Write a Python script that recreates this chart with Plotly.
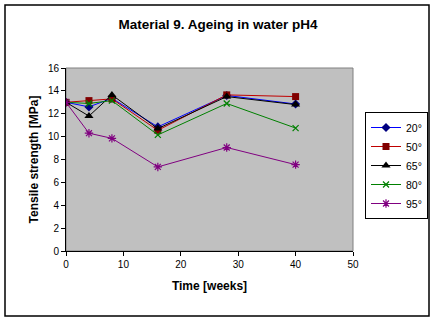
import plotly.graph_objects as go

weeks = [0, 4, 8, 16, 28, 40]
series_names = ["20°", "50°", "65°", "80°", "95°"]
s20 = [13.0, 12.6, 13.35, 10.85, 13.6, 12.85]
s50 = [13.0, 13.15, 13.3, 10.55, 13.65, 13.5]
s65 = [13.0, 11.8, 13.65, 10.7, 13.5, 12.8]
s80 = [13.0, 12.9, 13.15, 10.15, 12.9, 10.75]
s95 = [13.0, 10.3, 9.85, 7.35, 9.05, 7.55]
x_ticks = [0, 10, 20, 30, 40, 50]
y_ticks = [0, 2, 4, 6, 8, 10, 12, 14, 16]

styles = [
    dict(line="#0000FF", marker="#000080", symbol="diamond", size=7),
    dict(line="#C00000", marker="#800000", symbol="square", size=7),
    dict(line="#000000", marker="#000000", symbol="triangle-up", size=8),
    dict(line="#008000", marker="#008000", symbol="x-thin", size=6),
    dict(line="#800080", marker="#800080", symbol="asterisk", size=7),
]

fig = go.Figure()
for name, vals, st in zip(series_names, [s20, s50, s65, s80, s95], styles):
    thin = st["symbol"] in ("x-thin", "asterisk")
    fig.add_trace(go.Scatter(
        x=weeks, y=vals, name=name, mode="lines+markers",
        line=dict(color=st["line"], width=1),
        marker=dict(symbol=st["symbol"], size=st["size"], color=st["marker"],
                    line=dict(color=st["marker"], width=1.2 if thin else 0)),
    ))

W, H = 436, 325
L, R, T, B = 66, 0, 68, 74
PLOT_RIGHT = 353
paper_w = W - L - R
ph = H - T - B

def px(xp):
    return (xp - L) / paper_w

def py(yp):
    return (H - B - yp) / ph

fig.add_shape(type="rect", xref="paper", yref="paper",
              x0=px(5), x1=px(429), y0=py(316), y1=py(5),
              line=dict(color="black", width=1.5), layer="below")

fig.update_layout(
    width=W, height=H,
    margin=dict(l=L, r=R, t=T, b=B, autoexpand=False),
    paper_bgcolor="white",
    plot_bgcolor="#C0C0C0",
    font=dict(family="Arial, Liberation Sans", size=10, color="black"),
    title=dict(text="<b>Material 9. Ageing in water pH4</b>", x=218 / W, xref="container",
               xanchor="center", y=1 - 24 / H, yanchor="middle",
               font=dict(size=13.5)),
    showlegend=True,
    legend=dict(x=px(428), y=py(112), xanchor="right", yanchor="top",
                bordercolor="black", borderwidth=1, bgcolor="white",
                font=dict(size=10.5), itemwidth=30, tracegroupgap=0),
    xaxis=dict(domain=[0, (PLOT_RIGHT - L) / paper_w], automargin=False,
               range=[0, 50], tickvals=x_ticks, ticks="outside", ticklen=4,
               tickcolor="black", showgrid=False, zeroline=False,
               showline=True, linecolor="black", linewidth=1, mirror=False,
               title=dict(text="<b>Time [weeks]</b>", font=dict(size=12), standoff=12)),
    yaxis=dict(range=[0, 16], tickvals=y_ticks, ticks="outside", ticklen=4, automargin=False,
               tickcolor="black", showgrid=False, zeroline=False,
               showline=True, linecolor="black", linewidth=1,
               title=dict(text="<b>Tensile strength [MPa]</b>", font=dict(size=12), standoff=6)),
)
# grey plot border on top/right
fig.add_shape(type="rect", xref="x domain", yref="y domain", x0=0, x1=1, y0=0, y1=1,
              line=dict(color="#808080", width=1), layer="below")

fig.write_html("out.html")
